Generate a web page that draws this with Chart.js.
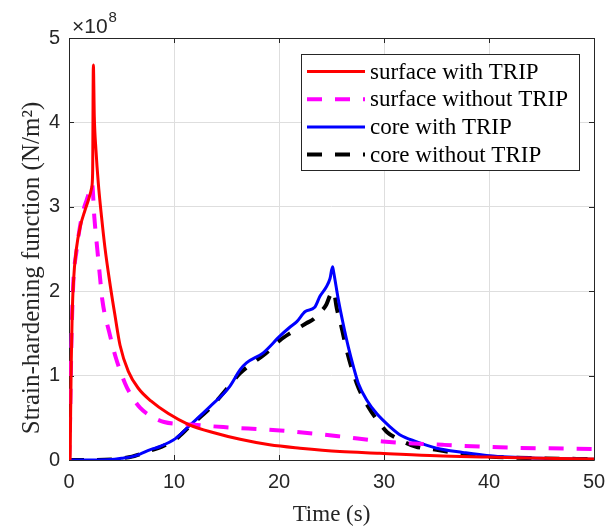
<!DOCTYPE html>
<html>
<head>
<meta charset="utf-8">
<title>Strain-hardening function</title>
<script src="https://cdn.jsdelivr.net/npm/chart.js@4/dist/chart.umd.min.js"></script>
<style>
  html, body { margin: 0; padding: 0; background: #ffffff; }
  canvas { display: block; }
</style>
</head>
<body>
<canvas id="c" width="608" height="531"></canvas>
<script>
// Time axis ticks (s) and strain-hardening axis ticks (x 10^8 N/m^2)
const timeTicks = [0, 10, 20, 30, 40, 50];
const valueTicks = [0, 1, 2, 3, 4, 5];

const seriesNames = ['surface with TRIP', 'surface without TRIP', 'core with TRIP', 'core without TRIP'];

// surface with TRIP
const surfTripT = [0, 0.1, 0.15, 0.22, 0.3, 0.42, 0.7, 1.1, 1.5, 1.9, 2.15, 2.25, 2.32, 2.41, 2.57, 2.79, 3.1, 3.42, 3.95, 4.37, 4.86, 5.65, 6.6, 7.8, 9.46, 11.4, 13.9, 16.3, 19.1, 22, 25.8, 29.6, 35, 40, 45, 50];
const surfTripV = [0, 0, 0.5, 1.2, 1.7, 2.1, 2.5, 2.78, 2.95, 3.1, 3.22, 3.4, 4.68, 4.07, 3.67, 3.28, 2.88, 2.52, 2.05, 1.72, 1.36, 1.05, 0.85, 0.70, 0.55, 0.42, 0.32, 0.245, 0.18, 0.14, 0.10, 0.08, 0.05, 0.035, 0.02, 0.012];

// surface without TRIP
const surfNoTripT = [0, 0.08, 0.16, 0.25, 0.41, 0.73, 1.05, 1.37, 1.68, 2.0, 2.2, 2.41, 2.7, 2.95, 3.17, 3.9, 4.44, 5.33, 6.0, 6.76, 7.8, 9.05, 11.6, 14.7, 20.1, 25.8, 29.9, 35.6, 41, 50];
const surfNoTripV = [0, 0.3, 0.91, 1.5, 2.1, 2.49, 2.77, 2.96, 3.08, 3.2, 3.27, 2.88, 2.49, 2.17, 1.9, 1.48, 1.22, 0.91, 0.75, 0.62, 0.52, 0.45, 0.42, 0.39, 0.35, 0.28, 0.22, 0.18, 0.15, 0.13];

// core with TRIP
const coreTripT = [0, 2, 4, 5, 6, 6.76, 7.7, 8.67, 10.1, 11.5, 13.4, 15.3, 16.3, 16.9, 18.5, 20.1, 21.0, 21.7, 22.5, 23.4, 23.9, 24.5, 24.86, 25.1, 25.2, 25.65, 26.1, 26.6, 27.1, 27.55, 28.35, 29.3, 30.6, 31.5, 33, 35, 37.5, 40, 45, 50];
const coreTripV = [0, 0, 0.005, 0.02, 0.04, 0.07, 0.12, 0.16, 0.25, 0.41, 0.63, 0.87, 1.07, 1.15, 1.27, 1.47, 1.57, 1.64, 1.76, 1.81, 1.94, 2.05, 2.15, 2.29, 2.23, 1.9, 1.62, 1.34, 1.1, 0.91, 0.71, 0.55, 0.39, 0.3, 0.22, 0.14, 0.09, 0.05, 0.02, 0.01];

// core without TRIP
const coreNoTripT = [0, 2, 4, 5, 6, 6.76, 7.7, 8.67, 10.1, 11.5, 13.4, 14.4, 15.6, 16.3, 17.5, 18.7, 20.1, 21.3, 22.6, 23.3, 24.0, 24.5, 24.9, 25.2, 25.5, 26.0, 26.45, 27.4, 28.5, 29.5, 30.3, 31.5, 33, 35, 37.5, 40, 45, 50];
const coreNoTripV = [0, 0, 0.005, 0.02, 0.04, 0.07, 0.11, 0.15, 0.24, 0.4, 0.61, 0.75, 0.93, 1.03, 1.15, 1.26, 1.42, 1.52, 1.62, 1.67, 1.76, 1.84, 1.96, 2.0, 1.8, 1.55, 1.3, 0.91, 0.63, 0.45, 0.33, 0.24, 0.16, 0.12, 0.07, 0.04, 0.02, 0.01];

const toPoints = (ts, vs) => ts.map((t, i) => ({ x: t, y: vs[i] }));

const AXIS = '#262626';
const GRID = '#dedede';
const SANS = '"Liberation Sans", Arial, sans-serif';
const SERIF = '"Liberation Serif", "Times New Roman", serif';
const DASH = [15, 13];

// Box, inward ticks, exponent, y label and legend
const framePlugin = {
  id: 'frame',
  beforeDatasetsDraw(chart) {
    const { ctx, chartArea: a, scales: { x, y } } = chart;
    ctx.save();
    ctx.strokeStyle = AXIS;
    ctx.lineWidth = 1;
    ctx.beginPath();
    ctx.rect(Math.round(a.left) + 0.5, Math.round(a.top) + 0.5, Math.round(a.right - a.left), Math.round(a.bottom - a.top));
    ctx.stroke();
    const tl = 5;
    ctx.beginPath();
    timeTicks.forEach(t => {
      const px = Math.round(x.getPixelForValue(t)) + 0.5;
      ctx.moveTo(px, a.bottom); ctx.lineTo(px, a.bottom - tl);
      ctx.moveTo(px, a.top); ctx.lineTo(px, a.top + tl);
    });
    valueTicks.forEach(v => {
      const py = Math.round(y.getPixelForValue(v)) + 0.5;
      ctx.moveTo(a.left, py); ctx.lineTo(a.left + tl, py);
      ctx.moveTo(a.right, py); ctx.lineTo(a.right - tl, py);
    });
    ctx.stroke();
    ctx.restore();
  },
  afterDraw(chart) {
    const { ctx, chartArea: a } = chart;
    ctx.save();
    // exponent above the y axis
    ctx.fillStyle = AXIS;
    ctx.textBaseline = 'alphabetic';
    ctx.font = '21px ' + SANS;
    ctx.fillText('\u00d710', a.left + 3, a.top - 5);
    const w = ctx.measureText('\u00d710').width;
    ctx.font = '15px ' + SANS;
    ctx.fillText('8', a.left + 3 + w + 1, a.top - 16);

    // y axis title
    ctx.save();
    ctx.translate(32, 268);
    ctx.rotate(-Math.PI / 2);
    ctx.textAlign = 'center';
    ctx.textBaseline = 'middle';
    ctx.font = '25px ' + SERIF;
    ctx.fillStyle = AXIS;
    ctx.fillText('Strain-hardening function (N/m\u00b2)', 0, 0);
    ctx.restore();

    // legend
    const lx = 301, ly = 54, lw = 278, lh = 116;
    ctx.fillStyle = '#ffffff';
    ctx.fillRect(lx, ly, lw, lh);
    ctx.strokeStyle = AXIS;
    ctx.lineWidth = 1;
    ctx.strokeRect(lx + 0.5, ly + 0.5, lw, lh);
    ctx.font = '23px ' + SERIF;
    ctx.textBaseline = 'middle';
    chart.data.datasets.forEach((ds, i) => {
      const cy = ly + 17.5 + i * 27.7;
      ctx.save();
      ctx.strokeStyle = ds.borderColor;
      ctx.lineWidth = ds.borderWidth;
      ctx.setLineDash(ds.borderDash || []);
      ctx.beginPath();
      ctx.moveTo(307, cy);
      ctx.lineTo(365, cy);
      ctx.stroke();
      ctx.restore();
      ctx.fillStyle = '#000000';
      ctx.fillText(ds.label, 370, cy + 1);
    });
    ctx.restore();
  }
};

new Chart(document.getElementById('c'), {
  type: 'line',
  data: {
    datasets: [
      { label: seriesNames[0], data: toPoints(surfTripT, surfTripV), borderColor: '#ff0000', borderWidth: 3 },
      { label: seriesNames[1], data: toPoints(surfNoTripT, surfNoTripV), borderColor: '#ff00ff', borderWidth: 4, borderDash: DASH },
      { label: seriesNames[2], data: toPoints(coreTripT, coreTripV), borderColor: '#0000ff', borderWidth: 3 },
      { label: seriesNames[3], data: toPoints(coreNoTripT, coreNoTripV), borderColor: '#000000', borderWidth: 4, borderDash: DASH }
    ]
  },
  options: {
    responsive: false,
    animation: false,
    layout: { padding: { top: 38, right: 14, left: 0, bottom: 0 } },
    elements: { point: { radius: 0 }, line: { cubicInterpolationMode: 'monotone', fill: false } },
    scales: {
      x: {
        type: 'linear', min: 0, max: 50,
        afterBuildTicks(s) { s.ticks = timeTicks.map(v => ({ value: v })); },
        afterFit(s) { s.height = 71; s.paddingLeft = 0; s.paddingRight = 0; },
        ticks: { font: { family: SANS, size: 20 }, color: AXIS, padding: 10, maxRotation: 0 },
        grid: { color: GRID, drawTicks: false },
        border: { display: false },
        title: { display: true, text: 'Time (s)', font: { family: SERIF, size: 23 }, color: AXIS, padding: { top: 0, bottom: 2 } }
      },
      y: {
        type: 'linear', min: 0, max: 5,
        afterBuildTicks(s) { s.ticks = valueTicks.map(v => ({ value: v })); },
        afterFit(s) { s.width = 69; s.paddingTop = 0; s.paddingBottom = 0; },
        ticks: { font: { family: SANS, size: 20 }, color: AXIS, padding: 9 },
        grid: { color: GRID, drawTicks: false },
        border: { display: false }
      }
    },
    plugins: { legend: { display: false }, tooltip: { enabled: false } }
  },
  plugins: [framePlugin]
});
</script>
</body>
</html>
